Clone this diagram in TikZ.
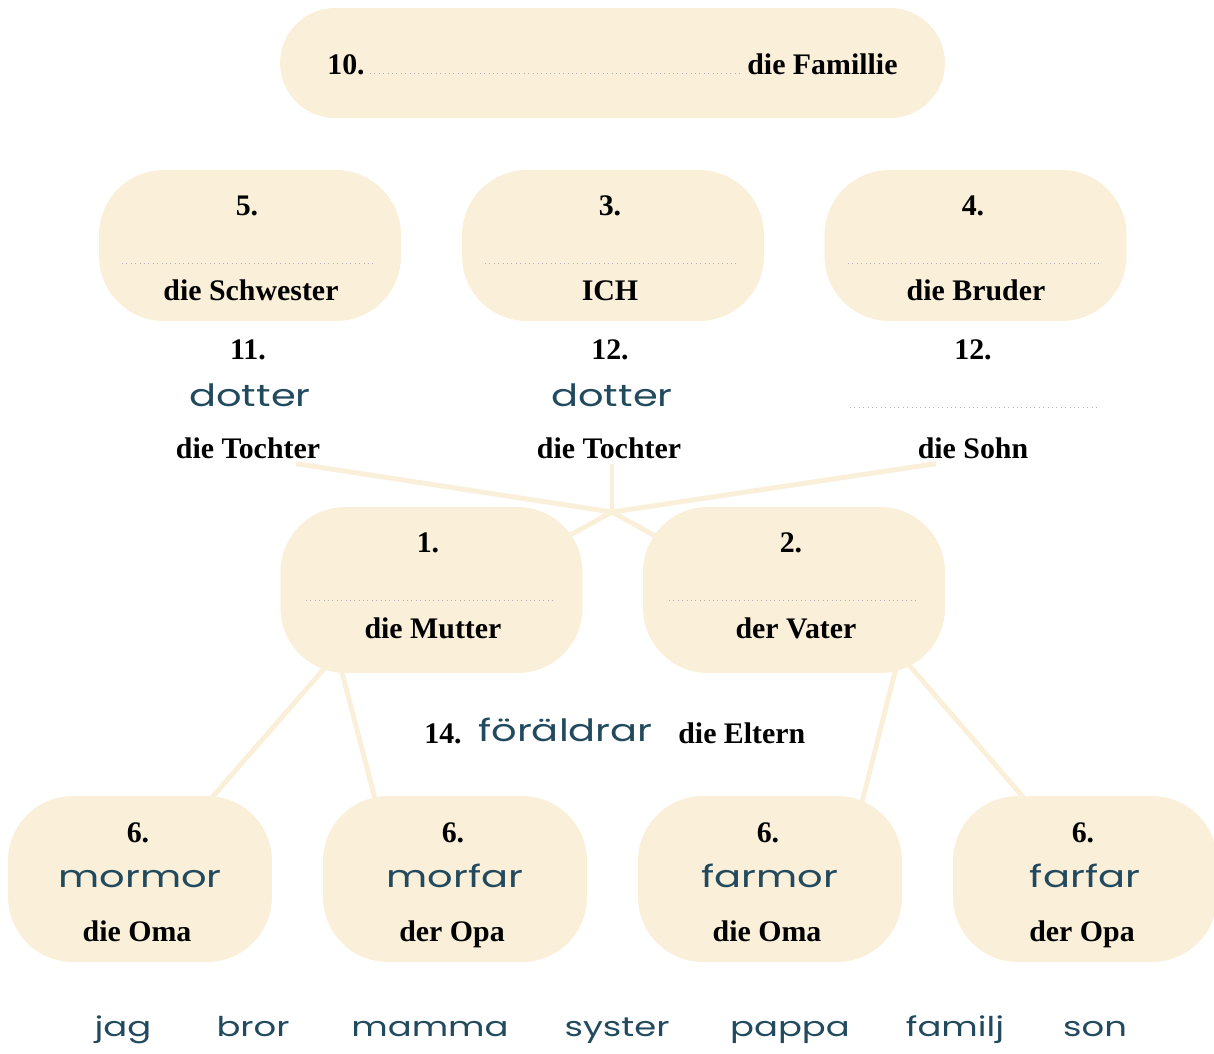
\documentclass[tikz,border=0pt]{standalone}
\usepackage{fontspec}
\setmainfont{Liberation Serif}
\newfontfamily\handfont[FakeStretch=1.3]{Poppins}
\usetikzlibrary{backgrounds}
\definecolor{boxfill}{RGB}{250,239,217}
\definecolor{inkblue}{RGB}{34,74,94}

\tikzset{
  famcard/.style={fill=boxfill, rounded corners=1.3cm, inner sep=0pt,
    minimum width=6.04cm, minimum height=3.02cm},
  lbl/.style={font=\bfseries\fontsize{17}{20}\selectfont, anchor=base, inner sep=0pt},
  hand/.style={font=\handfont\fontsize{17.5}{21}\selectfont, text=inkblue, anchor=base, inner sep=0pt},
  gapline/.style={draw=gray!60, dotted, line width=0.5pt},
  twig/.style={draw=boxfill, line width=2.8pt}
}

\begin{document}
\begin{tikzpicture}[x=0.02cm, y=-0.02cm]
        \useasboundingbox (0,0) rectangle (1214,1054);
        % family
        \node[famcard, minimum width=13.3cm, minimum height=2.2cm, rounded corners=1.1cm] (family) at (612.5,63) {};
        \node[lbl, anchor=base west] (famnum) at (327,75) {10.};
        \draw[gapline] (370,73) -- (740,73);
        \node[lbl, anchor=base west] (famword) at (747,75) {die Famillie};
        % siblings
        \node[famcard] (sister) at (250,245.5) {};
        \node[famcard] (me) at (613,245.5) {};
        \node[famcard] (brother) at (975.5,245.5) {};
        \node[lbl] (sisnum) at (247,216) {5.};
        \node[lbl] (menum) at (610,216) {3.};
        \node[lbl] (bronum) at (973,216) {4.};
        \draw[gapline] (122,263) -- (374,263);
        \draw[gapline] (485,263) -- (737,263);
        \draw[gapline] (848,263) -- (1100,263);
        \node[lbl] (sisword) at (251,300) {die Schwester};
        \node[lbl] (meword) at (610,300) {ICH};
        \node[lbl] (broword) at (976,300) {die Bruder};
        % children
        \node[lbl] (dauAnum) at (248,359) {11.};
        \node[lbl] (dauBnum) at (610,359) {12.};
        \node[lbl] (sonnum) at (973,359) {12.};
        \node[hand] (dauAsv) at (250,406) {dotter};
        \node[hand] (dauBsv) at (612,406) {dotter};
        \draw[gapline] (850,407) -- (1100,407);
        \node[lbl] (dauA) at (248,458) {die Tochter};
        \node[lbl] (dauB) at (609,458) {die Tochter};
        \node[lbl] (son) at (973,458) {die Sohn};
        % parents
        \node[famcard, minimum height=3.32cm] (mother) at (431.5,590) {};
        \node[famcard, minimum height=3.32cm] (father) at (794,590) {};
        \node[lbl] (monum) at (428,552) {1.};
        \node[lbl] (fanum) at (791,552) {2.};
        \draw[gapline] (306,600) -- (556,600);
        \draw[gapline] (669,600) -- (918,600);
        \node[lbl] (moword) at (433,638) {die Mutter};
        \node[lbl] (faword) at (796,638) {der Vater};
        \node[lbl, anchor=base west] (parnum) at (424,743) {14.};
        \node[hand, anchor=base west] (parsv) at (478,741) {föräldrar};
        \node[lbl, anchor=base west] (parword) at (678,743) {die Eltern};
        % grandparents
        \node[famcard, minimum width=5.28cm, minimum height=3.32cm] (grmaA) at (140,879) {};
        \node[famcard, minimum width=5.28cm, minimum height=3.32cm] (grpaA) at (455,879) {};
        \node[famcard, minimum width=5.28cm, minimum height=3.32cm] (grmaB) at (770,879) {};
        \node[famcard, minimum width=5.28cm, minimum height=3.32cm] (grpaB) at (1085,879) {};
        \node[lbl] (gnumA) at (138,842) {6.};
        \node[lbl] (gnumB) at (453,842) {6.};
        \node[lbl] (gnumC) at (768,842) {6.};
        \node[lbl] (gnumD) at (1083,842) {6.};
        \node[hand] (gsvA) at (140,887) {mormor};
        \node[hand] (gsvB) at (455,887) {morfar};
        \node[hand] (gsvC) at (770,887) {farmor};
        \node[hand] (gsvD) at (1085,887) {farfar};
        \node[lbl] (gwordA) at (137,941) {die Oma};
        \node[lbl] (gwordB) at (452,941) {der Opa};
        \node[lbl] (gwordC) at (767,941) {die Oma};
        \node[lbl] (gwordD) at (1082,941) {der Opa};
        % word bank
        \foreach \w/\x [count=\i] in {jag/123, bror/253, mamma/430, syster/617, pappa/790, familj/955, son/1095}
            \node[hand, font=\handfont\fontsize{15.5}{19}\selectfont] (bank\i) at (\x,1036) {\w};
        % links
        \coordinate (meet) at (612,512);
        \begin{scope}[on background layer]
            \draw[twig] ([shift={(48,5)}]dauA.south) -- (meet);
            \draw[twig] ([shift={(3,5)}]dauB.south) -- (meet);
            \draw[twig] ([shift={(-37,5)}]son.south) -- (meet);
            \draw[twig] (meet) -- ([shift={(108,-38)}]mother.center);
            \draw[twig] (meet) -- ([shift={(-110,-38)}]father.center);
            \draw[twig] ([shift={(-95.5,65)}]mother.center) -- ([shift={(58.5,-66)}]grmaA.center);
            \draw[twig] ([shift={(-93.5,67)}]mother.center) -- ([shift={(-75,-61)}]grpaA.center);
            \draw[twig] ([shift={(107,58)}]father.center) -- ([shift={(88,-61)}]grmaB.center);
            \draw[twig] ([shift={(102,60)}]father.center) -- ([shift={(-49,-67)}]grpaB.center);
        \end{scope}
\end{tikzpicture}
\end{document}
